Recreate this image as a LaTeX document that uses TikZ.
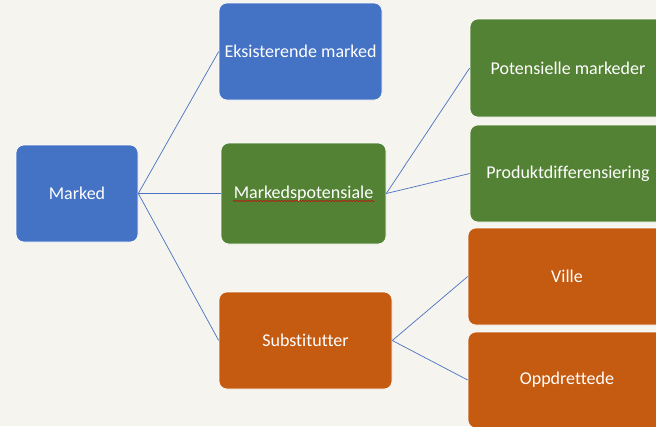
\documentclass[tikz,border=0pt]{standalone}
\usepackage{fontspec}
\setmainfont[Ligatures={NoCommon}]{Carlito}
\usetikzlibrary{calc, decorations.pathmorphing}
\definecolor{bgcol}{HTML}{F5F4EF}
\definecolor{boxblue}{HTML}{4472C4}
\definecolor{boxgreen}{HTML}{548235}
\definecolor{boxorange}{HTML}{C55A11}
\definecolor{linkblue}{HTML}{4A72C0}

\begin{document}
\begin{tikzpicture}[x=1pt, y=-1pt,
  box/.style={rounded corners=8pt, text=white, font=\fontsize{18}{21}\selectfont,
    inner sep=0pt, draw=white, line width=0.6pt},
  bluebox/.style={box, fill=boxblue},
  greenbox/.style={box, fill=boxgreen},
  orangebox/.style={box, fill=boxorange},
  link/.style={draw=linkblue, line width=0.7pt}]
  \fill [bgcol] (0,0) rectangle (656,426);
  \path [use as bounding box] (0,0) rectangle (656,426);
  \clip (0,0) rectangle (656,426);
  \node (marked) at (77,193.5) [bluebox, minimum width=122pt, minimum height=97pt] {Marked};
  \node (eksist) at (300.5,51.5) [bluebox, minimum width=163pt, minimum height=97pt] {Eksisterende marked};
  \node (potens) at (303.5,193.5) [greenbox, minimum width=165pt, minimum height=101pt] {Markedspotensiale};
  \node (subst) at (305.5,340.5) [orangebox, minimum width=173pt, minimum height=97pt] {Substitutter};
  \node (potmark) at (568,68) [greenbox, minimum width=196pt, minimum height=98pt] {Potensielle markeder};
  \node (produkt) at (568,173.5) [greenbox, minimum width=196pt, minimum height=97pt] {Produktdifferensiering};
  \node (ville) at (567,276.5) [orangebox, minimum width=198pt, minimum height=97pt] {Ville};
  \node (oppdr) at (567,380) [orangebox, minimum width=198pt, minimum height=96pt] {Oppdrettede};
  % spell check underline
  \draw [red!80!black, line width=0.5pt, decorate, decoration={snake, amplitude=0.5pt, segment length=3pt}]
    ($(potens.center)+(-70.5,7.5)$) -- ($(potens.center)+(71,7.5)$);
  \draw [link] (marked.east) -- (eksist.west);
  \draw [link] (marked.east) -- (potens.west);
  \draw [link] (marked.east) -- (subst.west);
  \draw [link] (potens.east) -- (potmark.west);
  \draw [link] (potens.east) -- (produkt.west);
  \draw [link] (subst.east) -- (ville.west);
  \draw [link] (subst.east) -- (oppdr.west);
\end{tikzpicture}
\end{document}
